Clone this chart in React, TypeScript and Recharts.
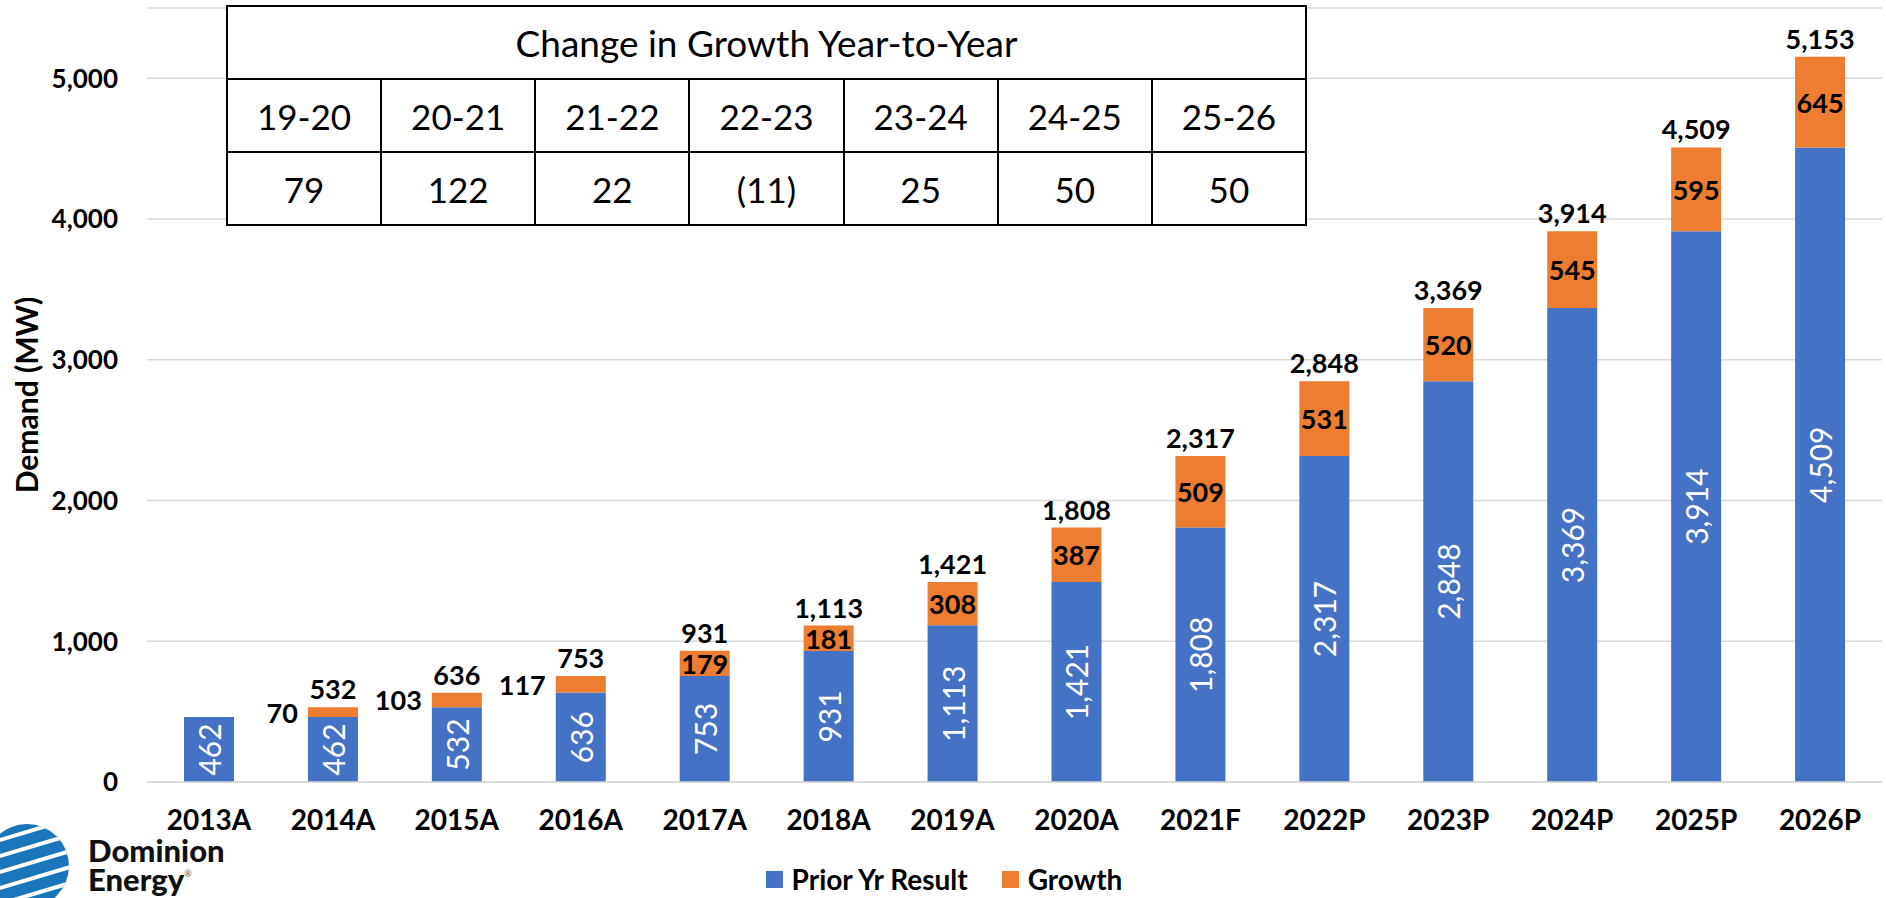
import React from "react";
import { Bar, BarChart, CartesianGrid, LabelList, Legend, XAxis, YAxis } from "recharts";

const years = ["2013A", "2014A", "2015A", "2016A", "2017A", "2018A", "2019A", "2020A", "2021F", "2022P", "2023P", "2024P", "2025P", "2026P"];
const priorYrResult = [462, 462, 532, 636, 753, 931, 1113, 1421, 1808, 2317, 2848, 3369, 3914, 4509];
const growthValues = [0, 70, 103, 117, 179, 181, 308, 387, 509, 531, 520, 545, 595, 645];
const totalLabels = [null, 532, 636, 753, 931, 1113, 1421, 1808, 2317, 2848, 3369, 3914, 4509, 5153];
const yTicks = [0, 1000, 2000, 3000, 4000, 5000];

const periods = ["19-20", "20-21", "21-22", "22-23", "23-24", "24-25", "25-26"];
const periodChange = ["79", "122", "22", "(11)", "25", "50", "50"];

const BLUE = "#4472C4";
const ORANGE = "#ED7D31";
const FONT = "Lato, 'Open Sans', sans-serif";

const series = [
  { key: "prior", name: "Prior Yr Result", color: BLUE },
  { key: "growth", name: "Growth", color: ORANGE },
];

const data = years.map((year, i) => ({
  year,
  prior: priorYrResult[i],
  growth: growthValues[i],
  total: totalLabels[i],
}));

const fmt = (v: number) => Number(v).toLocaleString("en-US");

function box(props: any) {
  const vb = props.viewBox ?? props;
  return { x: vb.x ?? props.x, y: vb.y ?? props.y, width: vb.width ?? props.width, height: vb.height ?? props.height };
}

function PriorLabel(props: any) {
  const { x, y, width, height } = box(props);
  const cx = x + width / 2;
  const cy = y + height / 2;
  return (
    <text x={cx} y={cy} transform={`rotate(-90 ${cx} ${cy})`} textAnchor="middle" dominantBaseline="central"
      fill="#fff" fontSize={30} fontWeight={400} fontFamily={FONT}>
      {fmt(props.value)}
    </text>
  );
}

function GrowthLabel(props: any) {
  if (!props.value) return null;
  const { x, y, width, height } = box(props);
  const outside = height < 20;
  return (
    <text x={outside ? x - 10 : x + width / 2} y={y + height / 2} textAnchor={outside ? "end" : "middle"}
      dominantBaseline="central" fill="#000" fontSize={27} fontWeight={700} fontFamily={FONT}>
      {props.value}
    </text>
  );
}

function TotalLabel(props: any) {
  if (props.value == null) return null;
  const { x, y, width } = box(props);
  return (
    <text x={x + width / 2} y={y - 8} textAnchor="middle" fill="#000" fontSize={27} fontWeight={700} fontFamily={FONT}>
      {fmt(props.value)}
    </text>
  );
}

function AxisTitle(props: any) {
  const { x, y, height } = box(props);
  const cx = x + 26;
  const cy = y + height / 2;
  return (
    <text x={cx} y={cy} transform={`rotate(-90 ${cx} ${cy})`} textAnchor="middle" dominantBaseline="central"
      fill="#000" fontSize={30} fontWeight={700} fontFamily={FONT}>
      Demand (MW)
    </text>
  );
}

function LegendContent() {
  return (
    <div style={{ display: "flex", justifyContent: "center", alignItems: "center", gap: 34,
      fontFamily: FONT, fontSize: 28, fontWeight: 700, color: "#000", paddingLeft: 6 }}>
      {series.map((s) => (
        <span key={s.key} style={{ display: "flex", alignItems: "center" }}>
          <span style={{ width: 17, height: 17, background: s.color, marginRight: 9, display: "inline-block" }} />
          {s.name}
        </span>
      ))}
    </div>
  );
}

function Logo() {
  const stripes = [20, 36, 52, 68, 84];
  return (
    <>
      <svg style={{ position: "absolute", left: 0, top: 820 }} width={80} height={78}>
        <defs>
          <clipPath id="globe">
            <circle cx={27} cy={46} r={42} />
          </clipPath>
        </defs>
        <g clipPath="url(#globe)">
          <rect x={-20} y={0} width={100} height={100} fill="#1b75bb" />
          {stripes.map((s) => (
            <line key={s} x1={-20} y1={s + 6} x2={80} y2={s - 24} stroke="#fff" strokeWidth={4} />
          ))}
        </g>
      </svg>
      <div style={{ position: "absolute", left: 88, top: 838, fontFamily: FONT, fontWeight: 900, fontSize: 31,
        color: "#111", lineHeight: "24px", whiteSpace: "nowrap" }}>
        Dominion<br />Energy<sup style={{ fontSize: 9, fontWeight: 400, color: "#555", verticalAlign: 14 }}>®</sup>
      </div>
    </>
  );
}

const cell: React.CSSProperties = { border: "2px solid #000", textAlign: "center", padding: 0, height: 71 };

function GrowthTable() {
  return (
    <table style={{ position: "absolute", left: 226, top: 5, width: 1081, height: 217, borderCollapse: "collapse",
      background: "#fff", fontFamily: FONT, fontSize: 35, color: "#000" }}>
      <tbody>
        <tr><td colSpan={7} style={{ ...cell, fontSize: 37 }}>Change in Growth Year-to-Year</td></tr>
        <tr>{periods.map((p) => <td key={p} style={cell}>{p}</td>)}</tr>
        <tr>{periodChange.map((v, i) => <td key={i} style={cell}>{v}</td>)}</tr>
      </tbody>
    </table>
  );
}

export default function App() {
  return (
    <div style={{ position: "absolute", left: 0, top: 0, width: 1886, height: 898, background: "#fff" }}>
      <BarChart width={1886} height={898} data={data} margin={{ top: 8, right: 4, left: 0, bottom: 0 }}>
        <CartesianGrid vertical={false} stroke="#d9d9d9" strokeWidth={1.5} />
        <XAxis dataKey="year" height={80} tickLine={false} axisLine={{ stroke: "#d9d9d9", strokeWidth: 1.5 }} tickMargin={22}
          tick={{ fill: "#000", fontSize: 28, fontWeight: 700, fontFamily: FONT }} interval={0} />
        <YAxis width={147} domain={[0, 5500]} ticks={yTicks} tickLine={false} axisLine={false} tickMargin={23}
          tickFormatter={fmt} tick={{ fill: "#000", fontSize: 26, fontWeight: 700, fontFamily: FONT }}
          label={{ position: "insideLeft", content: AxisTitle }} />
        <Legend verticalAlign="bottom" height={36} content={LegendContent} />
        {series.map((s) => (
          <Bar key={s.key} dataKey={s.key} name={s.name} stackId="a" fill={s.color} barSize={50} isAnimationActive={false}>
            {s.key === "prior" ? (
              <LabelList dataKey="prior" content={PriorLabel} />
            ) : (
              [<LabelList key="g" dataKey="growth" content={GrowthLabel} />,
               <LabelList key="t" dataKey="total" content={TotalLabel} />]
            )}
          </Bar>
        ))}
      </BarChart>
      <GrowthTable />
      <Logo />
    </div>
  );
}
